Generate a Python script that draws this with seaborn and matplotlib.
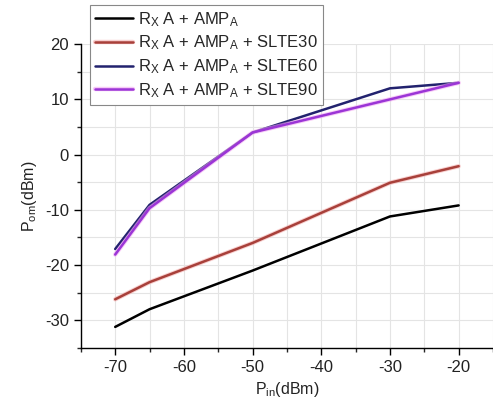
import matplotlib
matplotlib.use("Agg")
import matplotlib.pyplot as plt
import matplotlib.patheffects as pe
from matplotlib.ticker import MultipleLocator
import seaborn as sns
import pandas as pd

# data
p_in = [-70, -65, -50, -30, -20]
amp = [-31.2, -28, -21, -11.2, -9.2]
slte30 = [-26.2, -23.1, -16, -5.1, -2.1]
slte60 = [-17.1, -9.1, 4, 12, 13]
slte90 = [-18.1, -9.7, 4, 10, 13]

labels = [r"R$_X$ A + AMP$_A$",
          r"R$_X$ A + AMP$_A$ + SLTE30",
          r"R$_X$ A + AMP$_A$ + SLTE60",
          r"R$_X$ A + AMP$_A$ + SLTE90"]
colors = ["#000000", "#a8403a", "#22226e", "#9b35d6"]
glows = [None, "#f4b0b0", None, "#f2a6f2"]

rows = []
for lab, vals in zip(labels, [amp, slte30, slte60, slte90]):
    for x, y in zip(p_in, vals):
        rows.append({"Pin": x, "Pom": y, "series": lab})
df = pd.DataFrame(rows)

sns.set_style("white")
plt.rcParams["font.family"] = ["Liberation Sans", "DejaVu Sans"]
plt.rcParams["mathtext.fontset"] = "custom"
plt.rcParams["mathtext.rm"] = "Liberation Sans"
plt.rcParams["mathtext.it"] = "Liberation Sans"
plt.rcParams["axes.unicode_minus"] = False

fig = plt.figure(figsize=(4.93, 4.05), dpi=100)
ax = fig.add_axes([0.164, 0.141, 0.836, 0.75])

sns.lineplot(data=df, x="Pin", y="Pom", hue="series", hue_order=labels,
             palette=colors, linewidth=1.8, ax=ax, legend=False)

glow = lambda g: [pe.Stroke(linewidth=3.2, foreground=g, alpha=0.6), pe.Normal()]
for line, g in zip(ax.lines, glows):
    if g:
        line.set_path_effects(glow(g))

ax.set_xlim(-75, -15)
ax.set_ylim(-35, 20)
ax.xaxis.set_major_locator(MultipleLocator(10))
ax.xaxis.set_minor_locator(MultipleLocator(5))
ax.yaxis.set_major_locator(MultipleLocator(10))
ax.yaxis.set_minor_locator(MultipleLocator(5))
ax.grid(which="both", color="#e4e4e4", linewidth=0.8)
ax.set_axisbelow(True)

for s in ["top", "right"]:
    ax.spines[s].set_visible(False)
for s in ["left", "bottom"]:
    ax.spines[s].set_color("black")
    ax.spines[s].set_linewidth(1.0)

ax.tick_params(which="major", direction="out", length=5, width=1, labelsize=12,
               bottom=True, left=True, colors="black")
ax.tick_params(which="minor", direction="out", length=3, width=1,
               bottom=True, left=True)
for t in ax.get_xticklabels() + ax.get_yticklabels():
    t.set_color("#222222")

ax.set_xlabel(r"P$_{in}$(dBm)", fontsize=11.5, color="#222222")
ax.set_ylabel(r"P$_{om}$(dBm)", fontsize=11.5, color="#222222")

handles = [plt.Line2D([], [], color=c, linewidth=1.8) for c in colors]
for h, g in zip(handles, glows):
    if g:
        h.set_path_effects(glow(g))
leg = ax.legend(handles, labels, loc="upper left",
                bbox_to_anchor=(90 / 493, 1 - 5 / 405), bbox_transform=fig.transFigure,
                borderaxespad=0, fontsize=12, handlelength=2.3, handletextpad=0.3,
                labelspacing=0.3, borderpad=0.3, fancybox=False, framealpha=1)
leg.get_frame().set_edgecolor("#888888")
leg.get_frame().set_linewidth(0.8)

fig.savefig("out.png", dpi=100)
